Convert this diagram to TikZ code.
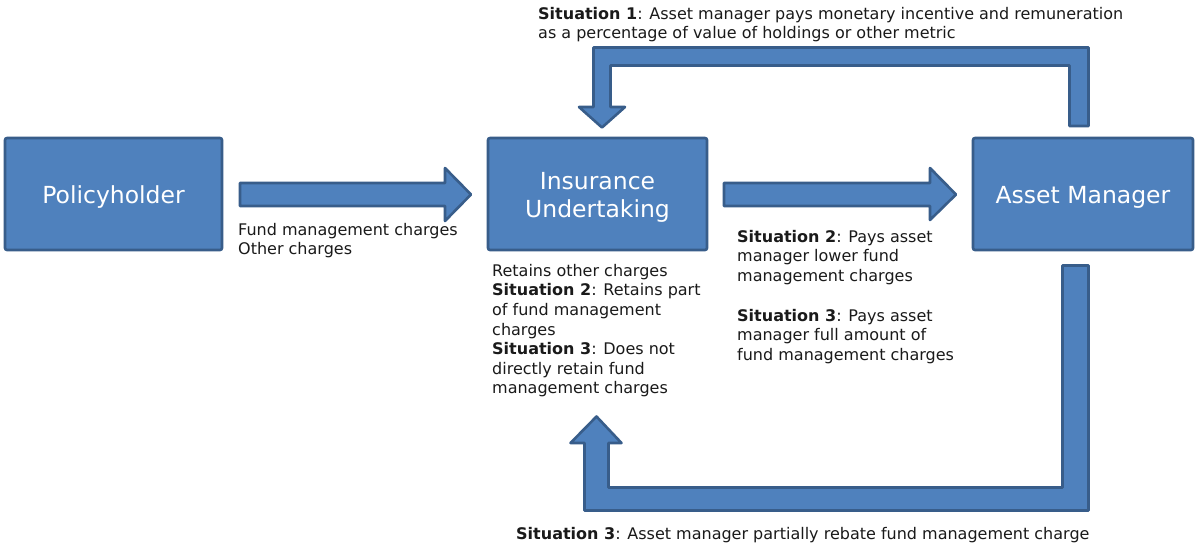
\documentclass[tikz,border=0pt]{standalone}
\usepackage{fontspec}
\setmainfont{DejaVu Sans}
\begin{document}
\begin{tikzpicture}[x=1pt,y=-1pt,
  boxfill/.style={fill=boxblue,draw=boxedge,line width=2.6pt,line join=round},
  entity/.style={boxfill,rounded corners=2pt,minimum height=112pt,inner sep=0pt},
  boxtext/.style={text=white,align=center,inner sep=0pt,yshift=-3pt,
    font={\fontsize{23.5}{28}\selectfont}},
  label/.style={anchor=north west,inner sep=0pt,align=left,text=textgray,
    font={\fontsize{16}{19.6}\selectfont}}]
\definecolor{boxblue}{HTML}{4F81BD}
\definecolor{boxedge}{HTML}{385D8A}
\definecolor{textgray}{HTML}{1A1A1A}
\useasboundingbox (0,0) rectangle (1195,544);
\fill[white] (0,0) rectangle (1195,544);

% entities
\node[entity,minimum width=217pt] (ph) at (113.5,194) {};
\node[entity,minimum width=219pt] (iu) at (597.5,194) {};
\node[entity,minimum width=220pt] (am) at (1083,194) {};
\node[boxtext] (phl) at (ph.center) {Policyholder};
\node[boxtext] (iul) at (iu.center) {Insurance\\Undertaking};
\node[boxtext] (aml) at (am.center) {Asset Manager};

% straight block arrows
\draw[boxfill] (240,183) -- (445,183) -- (445,168) -- (471,194.5) -- (445,221)
  -- (445,206) -- (240,206) -- cycle;
\draw[boxfill] (724,183) -- (930,183) -- (930,168) -- (956,194.5) -- (930,220)
  -- (930,206) -- (724,206) -- cycle;

% top bent arrow (asset manager -> insurance undertaking)
\draw[boxfill] (1088.5,126) -- (1088.5,47.5) -- (593.5,47.5) -- (593.5,107)
  -- (579,107) -- (602,127.5) -- (625,107) -- (610.5,107) -- (610.5,65.5)
  -- (1069.5,65.5) -- (1069.5,126) -- cycle;

% bottom bent arrow (asset manager -> insurance undertaking)
\draw[boxfill] (1062.5,265.5) -- (1088.5,265.5) -- (1088.5,510.5) -- (584.5,510.5)
  -- (584.5,443) -- (570.5,443) -- (596.5,416.5) -- (621.5,443) -- (608.5,443)
  -- (608.5,487.5) -- (1062.5,487.5) -- cycle;

% texts
\node[label] (t1) at (538,7) {\textbf{Situation 1}: Asset manager pays monetary incentive and remuneration\\as a percentage of value of holdings or other metric};
\node[label] (t2) at (238,223) {Fund management charges\\Other charges};
\node[label] (t3) at (492,264) {Retains other charges\\\textbf{Situation 2}: Retains part\\of fund management\\charges\\\textbf{Situation 3}: Does not\\directly retain fund\\management charges};
\node[label] (t4) at (737,230) {\textbf{Situation 2}: Pays asset\\manager lower fund\\management charges};
\node[label] (t5) at (737,309) {\textbf{Situation 3}: Pays asset\\manager full amount of\\fund management charges};
\node[label] (t6) at (516,527) {\textbf{Situation 3}: Asset manager partially rebate fund management charge};
\end{tikzpicture}
\end{document}
